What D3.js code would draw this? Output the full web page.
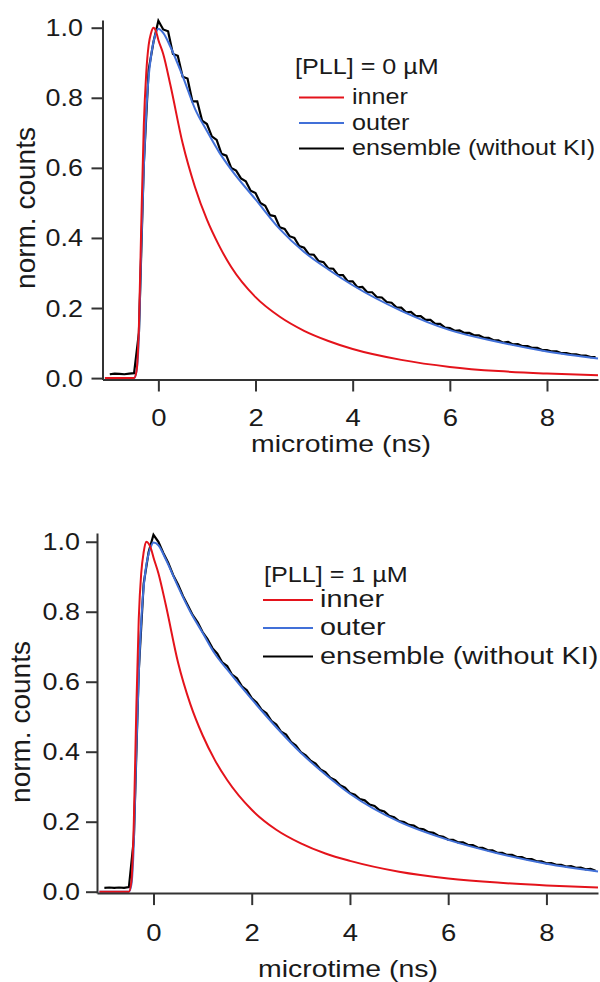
<!DOCTYPE html>
<html lang="en">
<head>
<meta charset="UTF-8" />
<title>Fluorescence decay, inner / outer / ensemble</title>
<script src="https://d3js.org/d3.v7.min.js"></script>
<style>
  body { margin: 0; background: #fff; }
  svg text { font-family: "Liberation Sans", Arial, sans-serif; fill: #1a1a1a; }
  .axis path, .axis line { stroke: #333; stroke-width: 2px; }
</style>
</head>
<body>
<script>
// time points (ns) of the fitted curves
const fitT = [-1.1, -0.5, -0.45, -0.4, -0.35, -0.3, -0.25, -0.2, -0.15, -0.1, -0.05, 0,
  0.1, 0.25, 0.5, 0.75, 1, 1.25, 1.5, 2, 2.5, 3, 3.5, 4, 5, 6, 7, 8, 9.05];

// [PLL] = 0 uM
const innerTop = [0, 0, 0.02, 0.15, 0.45, 0.72, 0.87, 0.95, 0.985, 1.0, 0.99, 0.965,
  0.925, 0.835, 0.67, 0.547, 0.452, 0.378, 0.317, 0.231, 0.175, 0.135, 0.106, 0.083, 0.052, 0.032, 0.02, 0.013, 0.008];
const outerTop = [0, 0, 0.02, 0.12, 0.38, 0.6, 0.76, 0.86, 0.92, 0.96, 0.985, 0.997,
  0.985, 0.945, 0.862, 0.77, 0.705, 0.645, 0.595, 0.51, 0.425, 0.36, 0.31, 0.265, 0.192, 0.137, 0.103, 0.076, 0.056];

// [PLL] = 1 uM
const innerBottom = [0, 0, 0.03, 0.2, 0.52, 0.78, 0.91, 0.97, 1.0, 0.995, 0.98, 0.955,
  0.91, 0.82, 0.655, 0.536, 0.447, 0.376, 0.319, 0.234, 0.177, 0.138, 0.109, 0.088, 0.057, 0.038, 0.026, 0.018, 0.012];
const outerBottom = [0, 0, 0.02, 0.14, 0.4, 0.62, 0.77, 0.87, 0.93, 0.965, 0.987, 0.998,
  0.99, 0.95, 0.872, 0.8, 0.74, 0.68, 0.635, 0.55, 0.47, 0.397, 0.335, 0.28, 0.2, 0.148, 0.11, 0.08, 0.058];

const ensT = [
  -1.0, -0.9, -0.8, -0.7, -0.6, -0.5, -0.4, -0.3, -0.2, -0.1,
  0.0, 0.1, 0.2, 0.3, 0.4, 0.5, 0.6, 0.7, 0.8, 0.9,
  1.0, 1.1, 1.2, 1.3, 1.4, 1.5, 1.6, 1.7, 1.8, 1.9,
  2.0, 2.1, 2.2, 2.3, 2.4, 2.5, 2.6, 2.7, 2.8, 2.9,
  3.0, 3.1, 3.2, 3.3, 3.4, 3.5, 3.6, 3.7, 3.8, 3.9,
  4.0, 4.1, 4.2, 4.3, 4.4, 4.5, 4.6, 4.7, 4.8, 4.9,
  5.0, 5.1, 5.2, 5.3, 5.4, 5.5, 5.6, 5.7, 5.8, 5.9,
  6.0, 6.1, 6.2, 6.3, 6.4, 6.5, 6.6, 6.7, 6.8, 6.9,
  7.0, 7.1, 7.2, 7.3, 7.4, 7.5, 7.6, 7.7, 7.8, 7.9,
  8.0, 8.1, 8.2, 8.3, 8.4, 8.5, 8.6, 8.7, 8.8, 8.9,
  9.0];
const ensembleTop = [
  0.011, 0.013, 0.012, 0.011, 0.013, 0.014, 0.13, 0.61, 0.88, 0.96,
  1.02, 0.995, 0.99, 0.925, 0.92, 0.86, 0.855, 0.79, 0.79, 0.735,
  0.725, 0.69, 0.68, 0.64, 0.635, 0.60, 0.592, 0.57, 0.562, 0.535,
  0.528, 0.50, 0.492, 0.465, 0.462, 0.43, 0.426, 0.405, 0.40, 0.377,
  0.372, 0.353, 0.352, 0.334, 0.331, 0.313, 0.312, 0.294, 0.294, 0.276,
  0.276, 0.259, 0.26, 0.245, 0.245, 0.231, 0.23, 0.217, 0.215, 0.202,
  0.201, 0.188, 0.189, 0.177, 0.177, 0.166, 0.166, 0.155, 0.155, 0.144,
  0.143, 0.135, 0.136, 0.129, 0.129, 0.122, 0.122, 0.115, 0.115, 0.108,
  0.108, 0.101, 0.103, 0.096, 0.097, 0.091, 0.091, 0.086, 0.086, 0.080,
  0.080, 0.076, 0.076, 0.071, 0.071, 0.068, 0.068, 0.064, 0.064, 0.060,
  0.060];
const ensembleBottom = [
  0.011, 0.012, 0.011, 0.012, 0.011, 0.013, 0.15, 0.63, 0.88, 0.97,
  1.02, 1.0, 0.968, 0.94, 0.905, 0.878, 0.845, 0.818, 0.79, 0.77,
  0.742, 0.722, 0.696, 0.68, 0.655, 0.645, 0.62, 0.61, 0.587, 0.576,
  0.553, 0.541, 0.52, 0.51, 0.488, 0.478, 0.457, 0.449, 0.428, 0.418,
  0.399, 0.39, 0.374, 0.366, 0.349, 0.342, 0.326, 0.319, 0.304, 0.297,
  0.282, 0.277, 0.265, 0.261, 0.249, 0.245, 0.233, 0.229, 0.217, 0.213,
  0.202, 0.199, 0.191, 0.189, 0.18, 0.178, 0.17, 0.168, 0.16, 0.157,
  0.149, 0.148, 0.141, 0.141, 0.134, 0.133, 0.126, 0.125, 0.119, 0.118,
  0.111, 0.111, 0.105, 0.105, 0.099, 0.099, 0.093, 0.093, 0.087, 0.087,
  0.081, 0.082, 0.077, 0.077, 0.072, 0.073, 0.068, 0.069, 0.064, 0.065,
  0.06];

const xTicks = [0, 2, 4, 6, 8];
const yTicks = [0.0, 0.2, 0.4, 0.6, 0.8, 1.0];
const legendLabels = ["inner", "outer", "ensemble (without KI)"];
const legendTitles = ["[PLL] = 0 \u00b5M", "[PLL] = 1 \u00b5M"];

const width = 600;
const height = 982;
const stretch = 1.17; // the figure text is a bit wide
const red = "#e4131b";
const blue = "#4170d8";

const svg = d3.select("body").append("svg")
  .attr("width", width)
  .attr("height", height);

function drawPanel(p) {
  const x = d3.scaleLinear().domain([-1.15, 9.05]).range([p.left, 598]);
  const y = d3.scaleLinear().domain(p.yDomain).range([p.bottom, p.top]);
  const g = svg.append("g");

  const fitLine = d3.line().x((d) => x(d[0])).y((d) => y(d[1])).curve(d3.curveMonotoneX);
  const rawLine = d3.line().x((d) => x(d[0])).y((d) => y(d[1]));

  // ensemble first, fits on top
  g.append("path")
    .datum(d3.zip(ensT, p.ensemble))
    .attr("d", rawLine)
    .attr("fill", "none")
    .attr("stroke", "#000")
    .attr("stroke-width", 2.2);
  g.append("path")
    .datum(d3.zip(fitT, p.outer))
    .attr("d", fitLine)
    .attr("fill", "none")
    .attr("stroke", blue)
    .attr("stroke-width", 2);
  g.append("path")
    .datum(d3.zip(fitT, p.inner))
    .attr("d", fitLine)
    .attr("fill", "none")
    .attr("stroke", red)
    .attr("stroke-width", 2);

  // y axis
  const ya = g.append("g")
    .attr("class", "axis")
    .attr("transform", `translate(${p.left},0)`)
    .call(d3.axisLeft(y).tickValues(yTicks).tickFormat(d3.format(".1f")).tickSize(11).tickSizeOuter(0));
  ya.selectAll("text")
    .attr("x", null).attr("dy", null)
    .attr("transform", `translate(${-p.yLabelGap},8) scale(${stretch},1)`)
    .style("font-size", "23px");

  // x axis
  const xa = g.append("g")
    .attr("class", "axis")
    .attr("transform", `translate(0,${p.bottom})`)
    .call(d3.axisBottom(x).tickValues(xTicks).tickSize(12).tickSizeOuter(0));
  xa.selectAll("text")
    .attr("y", null).attr("dy", null)
    .attr("transform", `translate(0,${p.xLabelDrop}) scale(${stretch},1)`)
    .style("font-size", "23.5px");

  // axis titles
  g.append("text")
    .attr("transform", `translate(${p.xTitle[0]},${p.xTitle[1]}) scale(${stretch},1)`)
    .attr("text-anchor", "middle")
    .style("font-size", "24.3px")
    .text("microtime (ns)");
  g.append("text")
    .attr("transform", `translate(${p.yTitle[0]},${p.yTitle[1]}) rotate(-90)`)
    .attr("text-anchor", "middle")
    .style("font-size", "28px")
    .text("norm. counts");

  // legend
  const lg = p.legend;
  g.append("text")
    .attr("transform", `translate(${lg.titleX},${lg.titleY}) scale(${stretch},1)`)
    .style("font-size", lg.titleSize + "px")
    .text(p.title);
  const colors = [red, blue, "#000"];
  legendLabels.forEach((label, i) => {
    const ly = lg.rows[i];
    g.append("line")
      .attr("x1", lg.lineX1).attr("x2", lg.lineX2)
      .attr("y1", ly).attr("y2", ly)
      .attr("stroke", colors[i])
      .attr("stroke-width", i === 2 ? 1.8 : 2);
    g.append("text")
      .attr("transform", `translate(${lg.textX},${ly + lg.textDy}) scale(${stretch},1)`)
      .style("font-size", lg.entrySize + "px")
      .text(label);
  });
}

drawPanel({
  left: 102.5, top: 20, bottom: 379.5, yDomain: [-0.004, 1.022],
  inner: innerTop, outer: outerTop, ensemble: ensembleTop, title: legendTitles[0],
  yLabelGap: 19.5, xLabelDrop: 46, xTitle: [341, 452], yTitle: [35, 208],
  legend: { titleX: 295, titleY: 74, titleSize: 21.5, entrySize: 21.5,
    lineX1: 299, lineX2: 344, textX: 352, rows: [97.5, 123, 148.5], textDy: 6.5 }
});

drawPanel({
  left: 97, top: 533, bottom: 893.1, yDomain: [-0.004, 1.025],
  inner: innerBottom, outer: outerBottom, ensemble: ensembleBottom, title: legendTitles[1],
  yLabelGap: 17, xLabelDrop: 48, xTitle: [348, 977], yTitle: [29.5, 722],
  legend: { titleX: 264, titleY: 582, titleSize: 21.5, entrySize: 24.6,
    lineX1: 263, lineX2: 313, textX: 320, rows: [600, 628, 656.5], textDy: 7 }
});
</script>
</body>
</html>
